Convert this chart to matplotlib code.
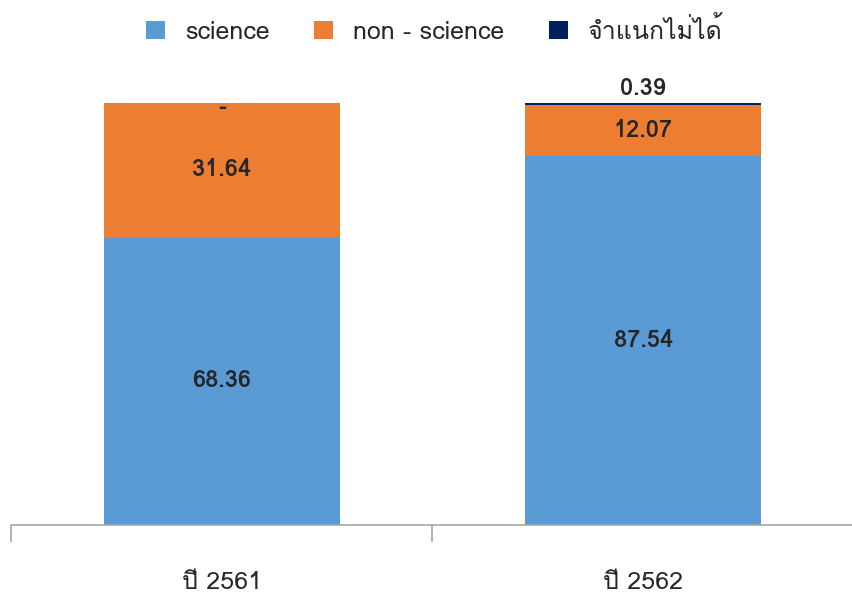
import matplotlib.pyplot as plt
from matplotlib import font_manager
import numpy as np

# ข้อมูล
categories = ['ปี 2561', 'ปี 2562']
science = [68.36, 87.54]
non_science = [31.64, 12.07]
unknown = [0, 0.39]
series_names = ['science', 'non - science', 'จำแนกไม่ได้']

# หาฟอนต์ที่มีอักษรไทย
thai_font = None
for f in font_manager.fontManager.ttflist:
    if any(k in f.name for k in ['Thai', 'Loma', 'Garuda', 'Sarabun', 'Tlwg', 'Kinnari', 'Norasi', 'Waree']):
        thai_font = f.name
        break
families = ([thai_font] if thai_font else []) + ['DejaVu Sans']
plt.rcParams['font.family'] = families

text_color = '#262626'
colors = ['#5B9BD5', '#ED7D31', '#002060']

fig = plt.figure(figsize=(8.52, 5.94), dpi=100)
ax = fig.add_axes([11 / 852, 69 / 594, 843 / 852, 422 / 594])

x = np.arange(len(categories))
w = 0.56
b1 = ax.bar(x, science, w, color=colors[0], label=series_names[0])
b2 = ax.bar(x, non_science, w, bottom=science, color=colors[1], label=series_names[1])
bottom3 = np.array(science) + np.array(non_science)
b3 = ax.bar(x, unknown, w, bottom=bottom3, color=colors[2], label=series_names[2])

# ป้ายค่า
lab = dict(ha='center', fontsize=17, color=text_color, fontweight='bold')
for i in range(len(categories)):
    ax.text(x[i], science[i] / 2, f'{science[i]:.2f}', va='center', **lab)
    ax.text(x[i], science[i] + non_science[i] / 2, f'{non_science[i]:.2f}', va='center', **lab)
    if unknown[i] == 0:
        ax.text(x[i], bottom3[i] - 1.0, '-', va='center', **lab)
    else:
        ax.text(x[i], bottom3[i] + unknown[i] + 0.6, f'{unknown[i]:.2f}', va='bottom', **lab)

ax.set_xlim(-0.5, 1.5)
ax.set_ylim(0, 100)
for s in ['top', 'right', 'left']:
    ax.spines[s].set_visible(False)
ax.spines['bottom'].set_color('#A6A6A6')
ax.spines['bottom'].set_linewidth(1.2)
ax.set_yticks([])
ax.set_xticks(x)
ax.set_xticklabels(categories, fontsize=18, color=text_color)
ax.set_xticks([-0.5, 0.5, 1.5], minor=True)
ax.tick_params(axis='x', which='major', length=0, pad=33)
ax.tick_params(axis='x', which='minor', length=12, width=1.2, color='#A6A6A6')

fig.legend(handles=[b1, b2, b3], loc='upper center', bbox_to_anchor=(0.51, 1.01), ncol=3,
           frameon=False, fontsize=18, handlelength=0.75, handleheight=0.75,
           columnspacing=1.8, handletextpad=0.8, labelcolor=text_color)

plt.savefig('out.png', dpi=100)
